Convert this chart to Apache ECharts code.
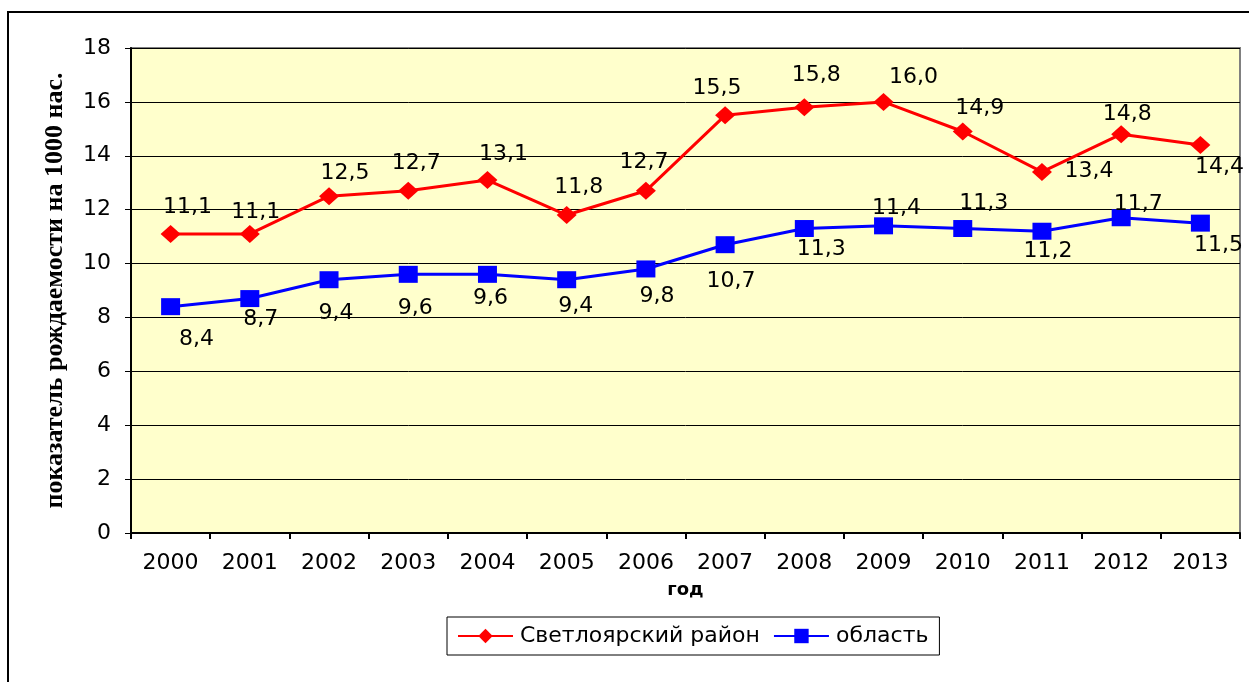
<!DOCTYPE html>
<html>
<head>
<meta charset="utf-8">
<script src="https://cdn.jsdelivr.net/npm/echarts@6/dist/echarts.min.js"></script>
<style>
html,body{margin:0;padding:0;background:#fff;}
#chart{width:1249px;height:682px;}
</style>
</head>
<body>
<div id="chart"></div>
<script>
const years = ['2000','2001','2002','2003','2004','2005','2006','2007','2008','2009','2010','2011','2012','2013'];
const rayon = [11.1, 11.1, 12.5, 12.7, 13.1, 11.8, 12.7, 15.5, 15.8, 16.0, 14.9, 13.4, 14.8, 14.4];
const oblast = [8.4, 8.7, 9.4, 9.6, 9.6, 9.4, 9.8, 10.7, 11.3, 11.4, 11.3, 11.2, 11.7, 11.5];
const yTicks = [0, 2, 4, 6, 8, 10, 12, 14, 16, 18];
const seriesNames = ['Светлоярский район', 'область'];
const xName = 'год';
const yName = 'показатель рождаемости на 1000 нас.';

// label offsets (styling only), relative to the marker centre
const rayonLabelOffsets = [[17,-27],[6,-22],[16,-23],[8,-28],[16,-26],[12,-28],[-2,-29],[-8,-27],[12,-32],[30,-25],[17,-23],[47,-1],[6,-20],[19,22]];
const oblastLabelOffsets = [[26,33],[11,21],[7,34],[7,34],[3,24],[9,27],[11,27],[6,37],[17,21],[13,-18],[21,-25],[6,20],[17,-13],[18,22]];

const fmt = v => v.toFixed(1).replace('.', ',');
const labelFont = {fontFamily: 'DejaVu Sans', fontSize: 22, color: '#000'};

function buildData(vals, offs) {
  return vals.map((v, i) => ({
    value: v,
    label: Object.assign({show: true, position: 'inside', offset: offs[i], formatter: p => fmt(p.value)}, labelFont)
  }));
}

const chart = echarts.init(document.getElementById('chart'), null, {renderer: 'canvas'});
chart.setOption({
  backgroundColor: '#ffffff',
  animation: false,
  graphic: [{
    type: 'rect', z: -10, silent: true,
    shape: {x: 8, y: 12, width: 1400, height: 1000},
    style: {fill: 'none', stroke: '#000', lineWidth: 2}
  }],
  grid: {
    left: 131, top: 48, right: 9, bottom: 149,
    show: true, backgroundColor: '#FFFFCC', borderColor: '#808080', borderWidth: 2
  },
  legend: {
    left: 447, top: 617,
    padding: [8, 11, 8, 10],
    borderColor: '#000', borderWidth: 1,
    backgroundColor: '#fff',
    itemWidth: 55, itemHeight: 18, itemGap: 13,
    textStyle: {fontFamily: 'DejaVu Sans', fontSize: 22, color: '#000', padding: [0, 0, 0, 2]},
    data: seriesNames
  },
  xAxis: {
    type: 'category',
    data: years,
    boundaryGap: true,
    name: xName,
    nameLocation: 'middle',
    nameGap: 48,
    nameTextStyle: {fontFamily: 'DejaVu Sans', fontWeight: 'bold', fontSize: 18, color: '#000'},
    axisLine: {show: true, lineStyle: {color: '#000', width: 2}},
    axisTick: {show: true, alignWithLabel: false, length: 6, lineStyle: {color: '#000', width: 2}},
    axisLabel: {fontFamily: 'DejaVu Sans', fontSize: 22, color: '#000', margin: 19},
    splitLine: {show: false}
  },
  yAxis: {
    type: 'value',
    min: yTicks[0], max: yTicks[yTicks.length - 1], interval: 2,
    name: yName,
    nameLocation: 'middle',
    nameGap: 63,
    nameRotate: 90,
    nameTextStyle: {fontFamily: 'Liberation Serif', fontWeight: 'bold', fontSize: 26, color: '#000'},
    axisLine: {show: true, lineStyle: {color: '#000', width: 2}},
    axisTick: {show: true, length: 6, lineStyle: {color: '#000', width: 1}},
    axisLabel: {fontFamily: 'DejaVu Sans', fontSize: 22, color: '#000', margin: 20},
    splitLine: {show: true, lineStyle: {color: '#000', width: 1}}
  },
  series: [
    {
      name: seriesNames[0],
      type: 'line',
      data: buildData(rayon, rayonLabelOffsets),
      symbol: 'diamond', symbolSize: [20, 18],
      lineStyle: {color: '#FF0000', width: 3},
      itemStyle: {color: '#FF0000'},
      z: 3
    },
    {
      name: seriesNames[1],
      type: 'line',
      data: buildData(oblast, oblastLabelOffsets),
      symbol: 'rect', symbolSize: [19, 17],
      lineStyle: {color: '#0000FF', width: 3},
      itemStyle: {color: '#0000FF'},
      z: 3
    }
  ]
});
</script>
</body>
</html>
